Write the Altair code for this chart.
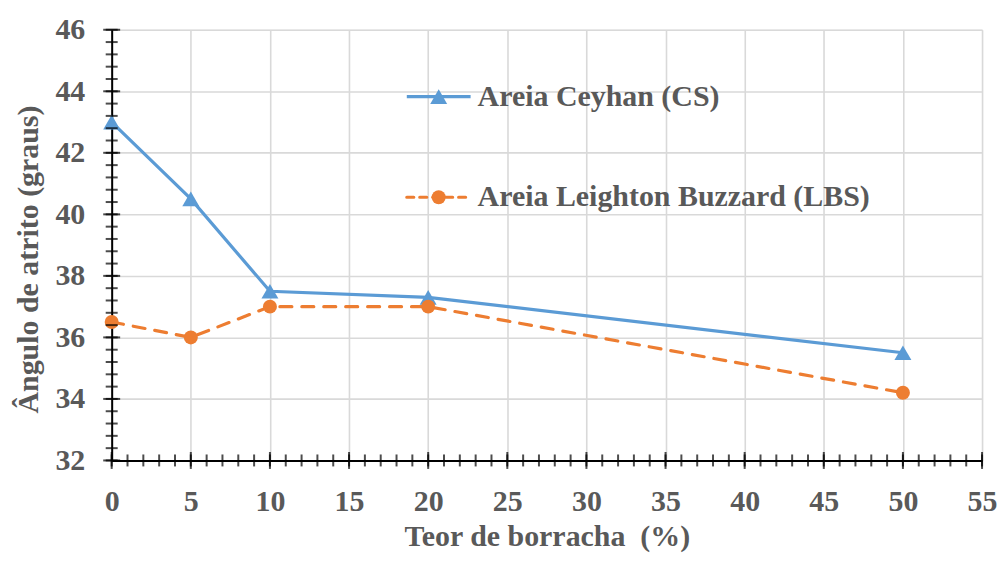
import altair as alt
import pandas as pd

# ---- data ----
x_values = [0, 5, 10, 20, 50]
cs_values = [43.0, 40.5, 37.5, 37.3, 35.5]
lbs_values = [36.5, 36.0, 37.0, 37.0, 34.2]
series_names = ["Areia Ceyhan (CS)", "Areia Leighton Buzzard (LBS)"]
x_major = [0, 5, 10, 15, 20, 25, 30, 35, 40, 45, 50, 55]
y_major = [32, 34, 36, 38, 40, 42, 44, 46]
x_minor = list(range(0, 56))
y_minor = [round(32 + 0.4 * i, 1) for i in range(36)]

df = pd.DataFrame({
    "x": x_values + x_values,
    "y": cs_values + lbs_values,
    "series": [series_names[0]] * len(x_values) + [series_names[1]] * len(x_values),
})

W, H = 873, 432
FONT = "Liberation Serif"
GRAY = "#595959"
BLUE = "#5B9BD5"
ORANGE = "#ED7D31"
GRID = "#d9d9d9"

xscale = alt.Scale(domain=[0, 55], nice=False, zero=False)
yscale = alt.Scale(domain=[32, 46], nice=False, zero=False)

xaxis = alt.Axis(
    values=x_major, grid=True, gridColor=GRID, gridWidth=1.6,
    ticks=False, tickSize=0, domainColor="black", domainWidth=2,
    labelFont=FONT, labelFontSize=30, labelFontWeight="bold", labelColor=GRAY,
    labelPadding=26, labelFlush=False, labelOverlap=False,
    title="Teor de borracha\u00a0 (%)", titleFont=FONT, titleFontSize=30,
    titleFontWeight="bold", titleColor=GRAY, titleBaseline="alphabetic",
    titleX=W / 2, titleY=85,
)
yaxis = alt.Axis(
    values=y_major, grid=True, gridColor=GRID, gridWidth=1.6,
    ticks=False, tickSize=0, domainColor="black", domainWidth=2,
    labelFont=FONT, labelFontSize=30, labelFontWeight="bold", labelColor=GRAY,
    labelPadding=27, labelFlush=False, labelOverlap=False,
    title="Ângulo de atrito (graus)", titleFont=FONT, titleFontSize=30,
    titleFontWeight="bold", titleColor=GRAY, titleBaseline="alphabetic",
    titleAngle=270, titleX=-74, titleY=230,
)

X = alt.X("x:Q", scale=xscale, axis=xaxis)
Y = alt.Y("y:Q", scale=yscale, axis=yaxis)

base = alt.Chart(df)
cs_f = alt.datum.series == series_names[0]
lbs_f = alt.datum.series == series_names[1]

line_cs = base.transform_filter(cs_f).mark_line(color=BLUE, strokeWidth=3.2).encode(x=X, y=Y)
pts_cs = base.transform_filter(cs_f).mark_point(
    shape="triangle-up", filled=True, size=289, color=BLUE, opacity=1
).encode(x=X, y=Y)
line_lbs = base.transform_filter(lbs_f).mark_line(
    color=ORANGE, strokeWidth=3.2, strokeDash=[12, 10], strokeCap="round"
).encode(x=X, y=Y)
pts_lbs = base.transform_filter(lbs_f).mark_circle(size=196, color=ORANGE, opacity=1).encode(x=X, y=Y)

# axis ticks crossing the axis lines (Excel style)
ymin_df = pd.DataFrame({"v": y_minor})
ymaj_df = pd.DataFrame({"v": y_major})
xmin_df = pd.DataFrame({"v": x_minor})
xmaj_df = pd.DataFrame({"v": x_major})

ytick_min = alt.Chart(ymin_df).mark_tick(orient="horizontal", size=12, thickness=2, color="black").encode(
    y=alt.Y("v:Q", scale=yscale, axis=yaxis), x=alt.value(0))
ytick_maj = alt.Chart(ymaj_df).mark_tick(orient="horizontal", size=17, thickness=2, color="black").encode(
    y=alt.Y("v:Q", scale=yscale, axis=yaxis), x=alt.value(0))
xtick_min = alt.Chart(xmin_df).mark_tick(orient="vertical", size=12, thickness=2, color="black").encode(
    x=alt.X("v:Q", scale=xscale, axis=xaxis), y=alt.value(H))
xtick_maj = alt.Chart(xmaj_df).mark_tick(orient="vertical", size=17, thickness=2, color="black").encode(
    x=alt.X("v:Q", scale=xscale, axis=xaxis), y=alt.value(H))

# legend (inside the plot)
leg_cs = pd.DataFrame({"label": [series_names[0]]})
leg_lbs = pd.DataFrame({"label": [series_names[1]]})

leg1_line = alt.Chart(leg_cs).mark_rule(color=BLUE, strokeWidth=3.2).encode(
    x=alt.value(296), x2=alt.value(360), y=alt.value(67))
leg1_pt = alt.Chart(leg_cs).mark_point(shape="triangle-up", filled=True, size=289, color=BLUE, opacity=1).encode(
    x=alt.value(328), y=alt.value(67))
leg1_txt = alt.Chart(leg_cs).mark_text(
    font=FONT, fontSize=30, fontWeight="bold", color=GRAY, align="left", baseline="alphabetic"
).encode(x=alt.value(367), y=alt.value(76), text="label:N")

leg2_line = alt.Chart(leg_lbs).mark_rule(color=ORANGE, strokeWidth=3.2, strokeDash=[7, 6], strokeCap="round").encode(
    x=alt.value(296), x2=alt.value(360), y=alt.value(168))
leg2_pt = alt.Chart(leg_lbs).mark_circle(size=196, color=ORANGE, opacity=1).encode(
    x=alt.value(328), y=alt.value(168))
leg2_txt = alt.Chart(leg_lbs).mark_text(
    font=FONT, fontSize=30, fontWeight="bold", color=GRAY, align="left", baseline="alphabetic"
).encode(x=alt.value(367), y=alt.value(177), text="label:N")

chart = alt.layer(
    line_cs, pts_cs, line_lbs, pts_lbs,
    ytick_min, ytick_maj, xtick_min, xtick_maj,
    leg1_line, leg1_pt, leg1_txt, leg2_line, leg2_pt, leg2_txt,
).properties(
    width=W, height=H,
    autosize=alt.AutoSizeParams(type="none"),
    padding={"left": 104, "top": 21, "right": 16, "bottom": 92},
).configure_view(stroke=None).configure(background="white")

chart.save("out.html", embed_options={"renderer": "svg", "actions": False})
